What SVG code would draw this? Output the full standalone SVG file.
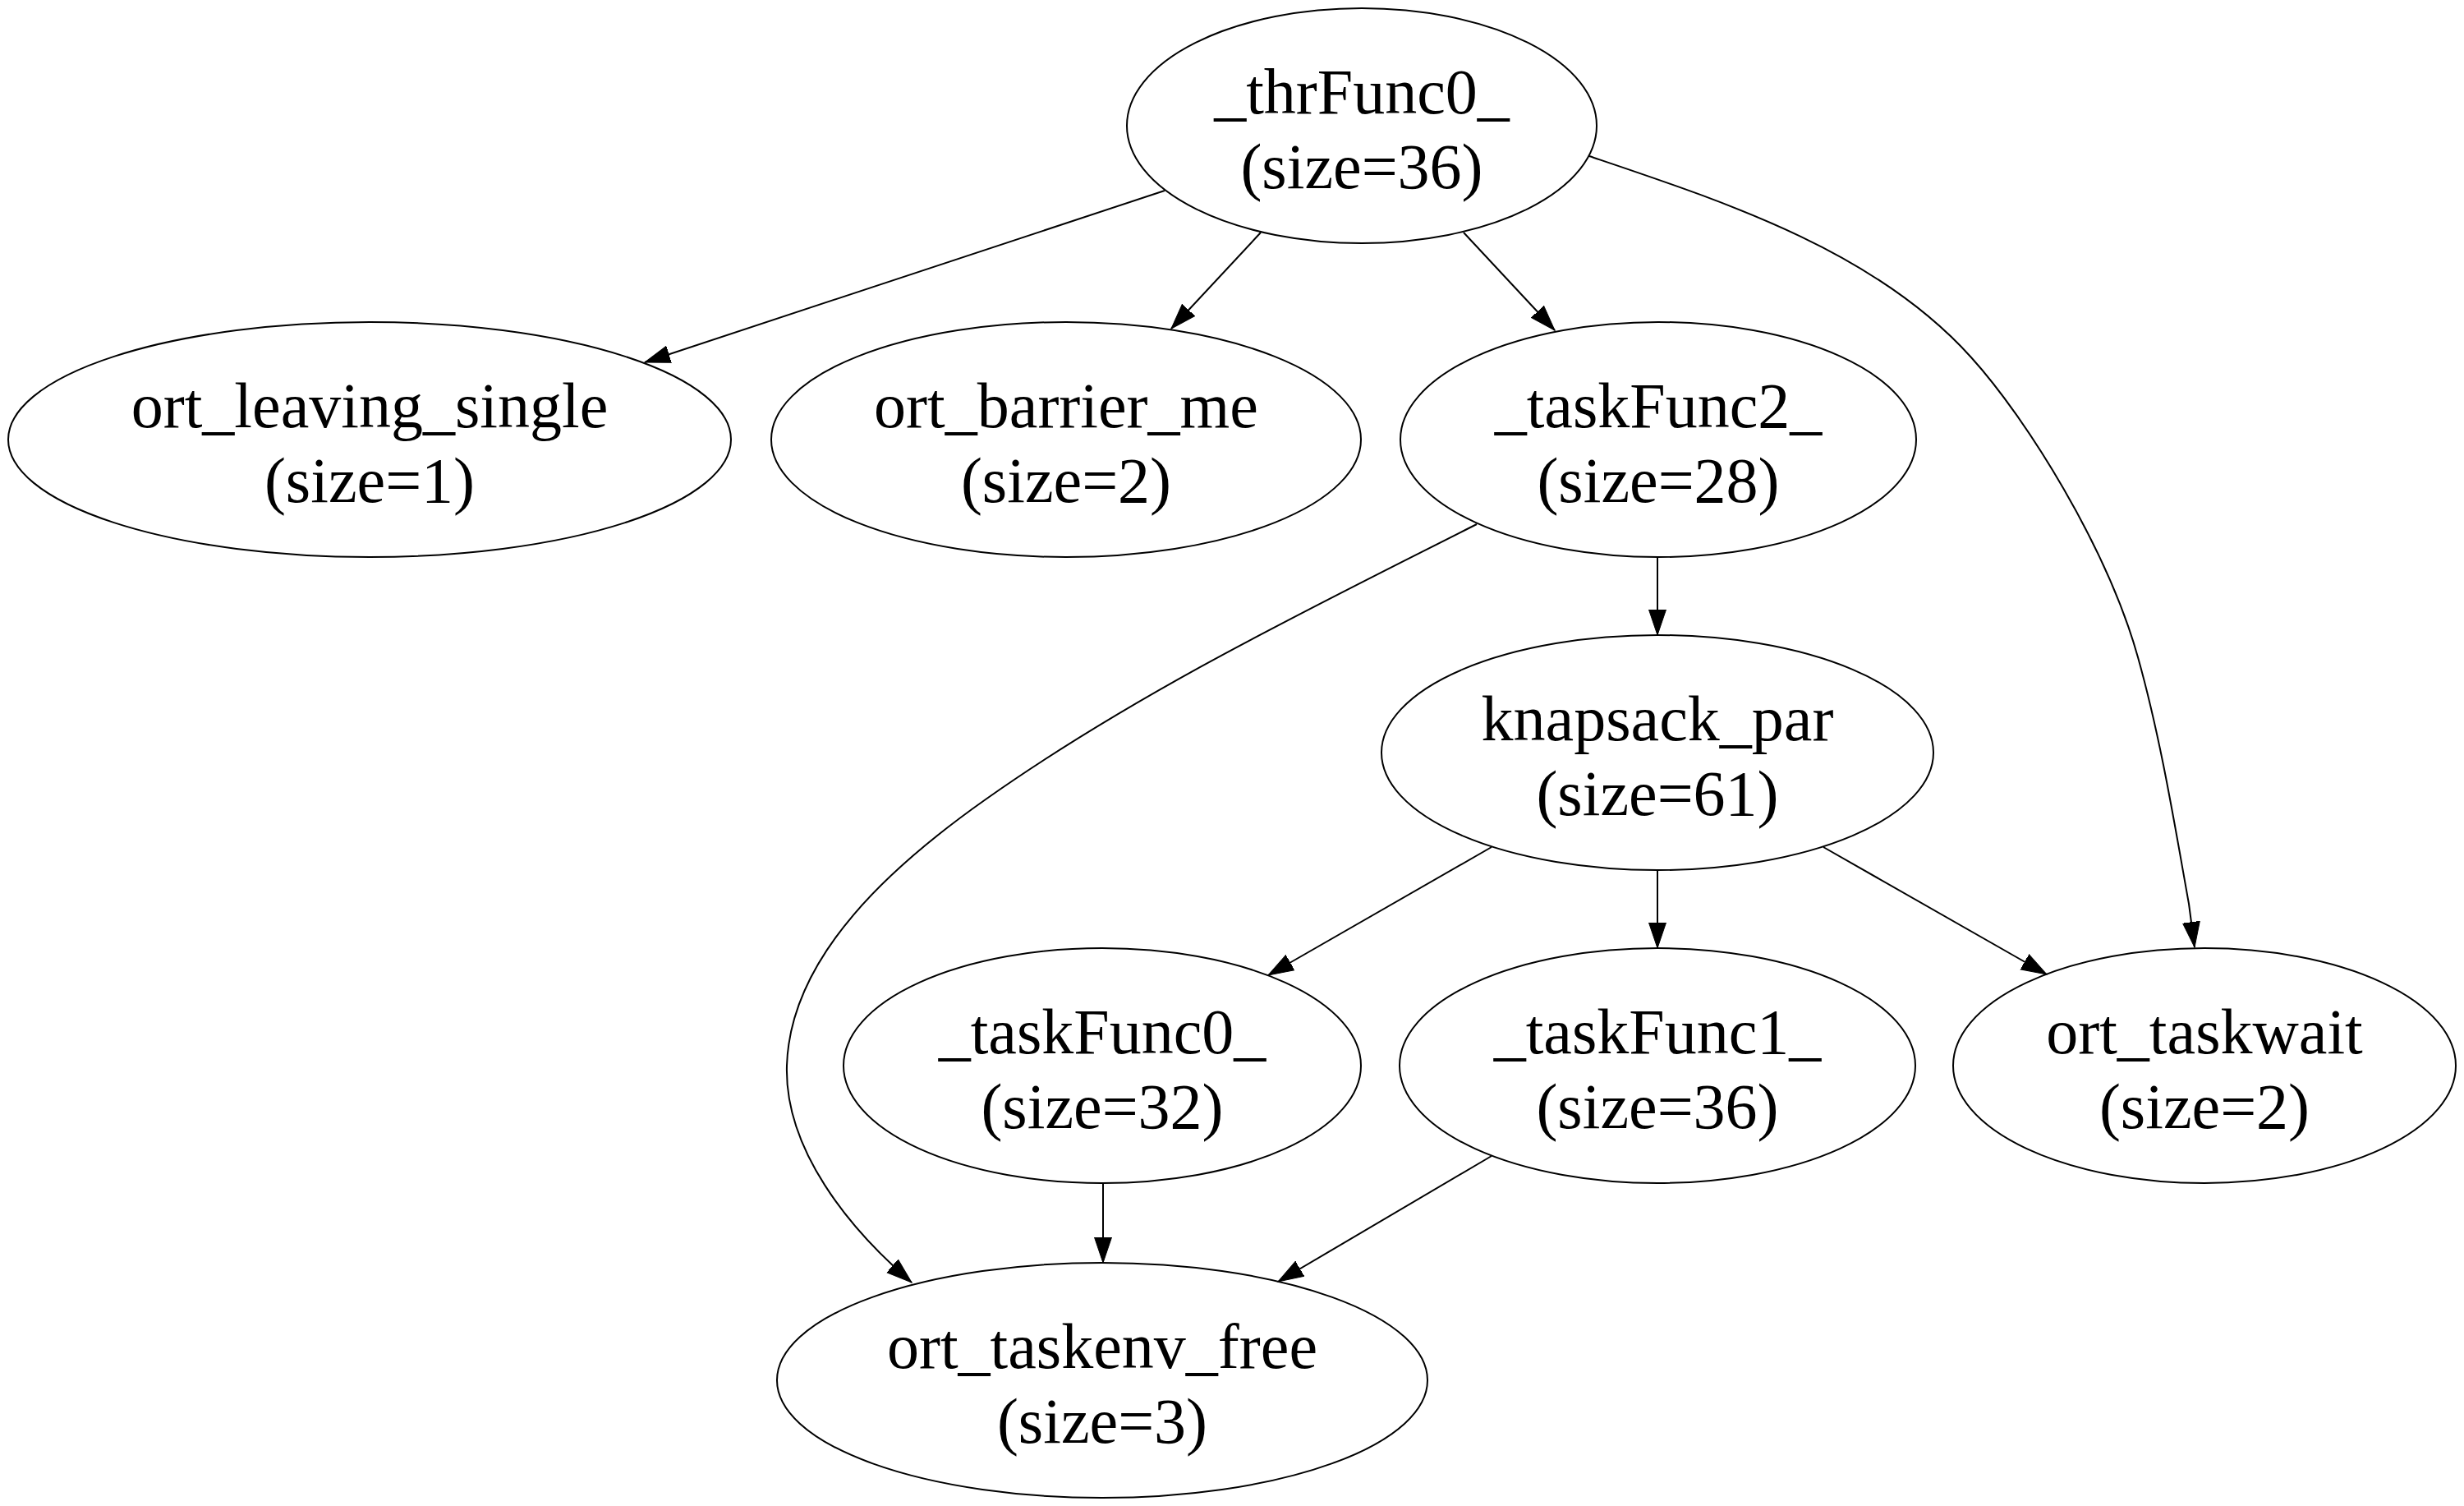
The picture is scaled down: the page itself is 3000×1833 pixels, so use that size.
<svg xmlns="http://www.w3.org/2000/svg" width="3000" height="1833" viewBox="0 0 3000 1833">
<style>
.node ellipse{fill:none;stroke:#000;stroke-width:2}
.node text{font-family:"Liberation Serif","Times New Roman",serif;font-size:78px;text-anchor:middle;fill:#000}
.edge path{fill:none;stroke:#000;stroke-width:2;marker-end:url(#arr)}
</style>
<defs>
<marker id="arr" markerUnits="userSpaceOnUse" markerWidth="33" markerHeight="23" refX="31" refY="11" orient="auto">
<path d="M0,0.5 L31,11 L0,21.5 Z" fill="#000" stroke="#000" stroke-width="1"/>
</marker>
</defs>
<rect width="3000" height="1833" fill="#fff"/>
<g id="edges" class="edge">
<path d="M1418,232 L785,441"/>
<path d="M1535,283 L1426,400"/>
<path d="M1782,283 L1893,402"/>
<path d="M1935,190 C2100.7,246 2283,305 2400,435 C2467,509 2565.5,666 2603,800 C2630.5,898 2647,999.6 2665,1100 L2672,1153"/>
<path d="M2018,677 L2018,773"/>
<path d="M1798,638 C1594.6,741 1386,841.7 1200,973 C1089.7,1050.8 962,1162 958,1297 C955,1398.5 1033,1494.6 1110,1561"/>
<path d="M1816,1031 L1544,1187"/>
<path d="M2018,1059 L2018,1154"/>
<path d="M2220,1031 L2492,1186"/>
<path d="M1343,1440 L1343,1537"/>
<path d="M1816,1407 L1556,1560"/>
</g>
<g id="thrFunc0" class="node">
<ellipse cx="1658" cy="153" rx="286" ry="143"/>
<text x="1658" y="138">_thrFunc0_</text>
<text x="1658" y="229">(size=36)</text>
</g>
<g id="ort_leaving_single" class="node">
<ellipse cx="450" cy="535" rx="440" ry="143"/>
<text x="450" y="520">ort_leaving_single</text>
<text x="450" y="611">(size=1)</text>
</g>
<g id="ort_barrier_me" class="node">
<ellipse cx="1298" cy="535" rx="359" ry="143"/>
<text x="1298" y="520">ort_barrier_me</text>
<text x="1298" y="611">(size=2)</text>
</g>
<g id="taskFunc2" class="node">
<ellipse cx="2019" cy="535" rx="314" ry="143"/>
<text x="2019" y="520">_taskFunc2_</text>
<text x="2019" y="611">(size=28)</text>
</g>
<g id="knapsack_par" class="node">
<ellipse cx="2018" cy="916" rx="336" ry="143"/>
<text x="2018" y="901">knapsack_par</text>
<text x="2018" y="992">(size=61)</text>
</g>
<g id="taskFunc0" class="node">
<ellipse cx="1342" cy="1297" rx="315" ry="143"/>
<text x="1342" y="1282">_taskFunc0_</text>
<text x="1342" y="1373">(size=32)</text>
</g>
<g id="taskFunc1" class="node">
<ellipse cx="2018" cy="1297" rx="314" ry="143"/>
<text x="2018" y="1282">_taskFunc1_</text>
<text x="2018" y="1373">(size=36)</text>
</g>
<g id="ort_taskwait" class="node">
<ellipse cx="2684" cy="1297" rx="306" ry="143"/>
<text x="2684" y="1282">ort_taskwait</text>
<text x="2684" y="1373">(size=2)</text>
</g>
<g id="ort_taskenv_free" class="node">
<ellipse cx="1342" cy="1680" rx="396" ry="143"/>
<text x="1342" y="1665">ort_taskenv_free</text>
<text x="1342" y="1756">(size=3)</text>
</g>
</svg>
